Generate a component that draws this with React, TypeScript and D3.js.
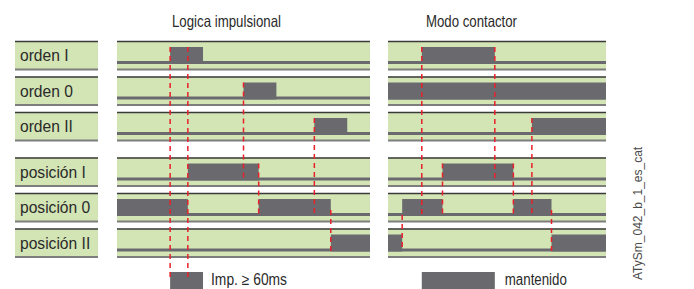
import React from 'react';
import * as d3 from 'd3';

// row names (top to bottom)
const rows = ['orden I', 'orden 0', 'orden II', 'posición I', 'posición 0', 'posición II'];

// "on" intervals per row, time units 0..100
const pulseOn = [
  [[21, 34]],
  [[50, 63]],
  [[78, 91]],
  [[28, 56]],
  [[0, 28], [56, 84.5]],
  [[84.5, 100]],
];
const contactorOn = [
  [[15.5, 49]],
  [[0, 100]],
  [[66, 100]],
  [[25, 57.5]],
  [[6.5, 25], [57.5, 75]],
  [[0, 6.5], [75, 100]],
];

// dashed guides: [time, from row, to row (6 = legend), start]
const pulseGuides = [
  [21, 0, 6, 'high'],
  [28, 0, 6, 'high'],
  [50, 1, 3, 'high'],
  [78, 2, 4, 'high'],
  [56, 3, 4, 'high'],
  [84.5, 4, 5, 'mid'],
];
const contactorGuides = [
  [15.5, 0, 4, 'high'],
  [49, 0, 3, 'high'],
  [66, 2, 4, 'high'],
  [25, 3, 4, 'high'],
  [57.5, 3, 4, 'high'],
  [6.5, 4, 5, 'low'],
  [75, 4, 5, 'mid'],
];

const titles = ['Logica impulsional', 'Modo contactor'];
const legendLabels = ['Imp. \u2265 60ms', 'mantenido'];
const sideNote = 'ATySm_042_b_1_es_cat';

const GREEN = '#d3e4b5';
const GREY = '#6a6a6e';
const RED = '#e8202a';
const ROW_H = 29;
const sans = "'Liberation Sans', Arial, sans-serif";

const yRow = d3.scaleLinear().domain([0, 5]).range([41, 41 + 5 * 35.5]);
const rowTop = (i: number) => yRow(i) + (i >= 3 ? 10 : 0);
const startOff: Record<string, number> = { high: 6, mid: 17, low: 22 };

// condensed look: squeeze Liberation Sans to the measured width
function Narrow({ x, y, w, size, anchor, children }: any) {
  return (
    <text x={x} y={y} textAnchor={anchor || 'start'} textLength={w} lengthAdjust="spacingAndGlyphs"
      fontFamily={sans} fontSize={size} fill="#2a2a2a">{children}</text>
  );
}

function Panel({ x, on, guides, title, titleX, titleW, legendLabel, legendW, legendGap }: any) {
  const legend = on[0][0];
  const lx = x(legend[0]);
  const [x0, x1] = x.range();
  return (
    <g>
      <Narrow x={titleX} y={26.5} w={titleW} size={16.5} anchor="middle">{title}</Narrow>
      {rows.map((r, i) => {
        const t = rowTop(i);
        return (
          <g key={r}>
            <rect x={x0} y={t} width={x1 - x0} height={ROW_H} fill={GREEN} />
            <line x1={x0} x2={x1} y1={t + 0.5} y2={t + 0.5} stroke="#3a3a3a" strokeWidth={1.5} />
            <line x1={x0} x2={x1} y1={t + 28.5} y2={t + 28.5} stroke="#7d7d7d" strokeWidth={2} />
            <rect x={x0} y={t + 20} width={x1 - x0} height={3} fill={GREY} />
            {on[i].map((s: number[], k: number) => (
              <rect key={k} x={x(s[0])} y={t + 6} width={x(s[1]) - x(s[0])} height={17} fill={GREY} />
            ))}
          </g>
        );
      })}
      <rect x={lx} y={272} width={x(legend[1]) - lx} height={17} fill={GREY} />
      <Narrow x={x(legend[1]) + legendGap} y={285} w={legendW} size={16}>{legendLabel}</Narrow>
      {guides.map((g: any, k: number) => {
        const y0 = rowTop(g[1]) + startOff[g[3]];
        const y1 = g[2] === 6 ? 278 : rowTop(g[2]) + 22.5;
        return <line key={k} x1={x(g[0])} x2={x(g[0])} y1={y0} y2={y1} stroke={RED} strokeWidth={1.5} strokeDasharray="5 4" />;
      })}
    </g>
  );
}

export default function App() {
  const xPulse = d3.scaleLinear().domain([0, 100]).range([117, 370]);
  const xCont = d3.scaleLinear().domain([0, 100]).range([388, 606]);
  return (
    <svg width={694} height={289} style={{ position: 'absolute', left: 0, top: 0, background: '#fff' }}>
      {rows.map((r, i) => {
        const t = rowTop(i);
        return (
          <g key={r}>
            <rect x={15} y={t} width={83} height={ROW_H} fill={GREEN} />
            <line x1={15} x2={98} y1={t + 0.5} y2={t + 0.5} stroke="#3a3a3a" strokeWidth={1.5} />
            <line x1={15} x2={98} y1={t + 28.5} y2={t + 28.5} stroke="#7d7d7d" strokeWidth={2} />
            <text x={20} y={t + 20} fontFamily={sans} fontSize={15.6} fill="#2a2a2a">{r}</text>
          </g>
        );
      })}
      <Panel x={xPulse} on={pulseOn} guides={pulseGuides} title={titles[0]} titleX={226.5} titleW={109}
        legendLabel={legendLabels[0]} legendW={76} legendGap={8} />
      <Panel x={xCont} on={contactorOn} guides={contactorGuides} title={titles[1]} titleX={471.5} titleW={91}
        legendLabel={legendLabels[1]} legendW={62} legendGap={10} />
      <text transform="translate(642,280) rotate(-90)" fontFamily={sans} fontSize={12} fill="#4a4a4a">{sideNote}</text>
    </svg>
  );
}
